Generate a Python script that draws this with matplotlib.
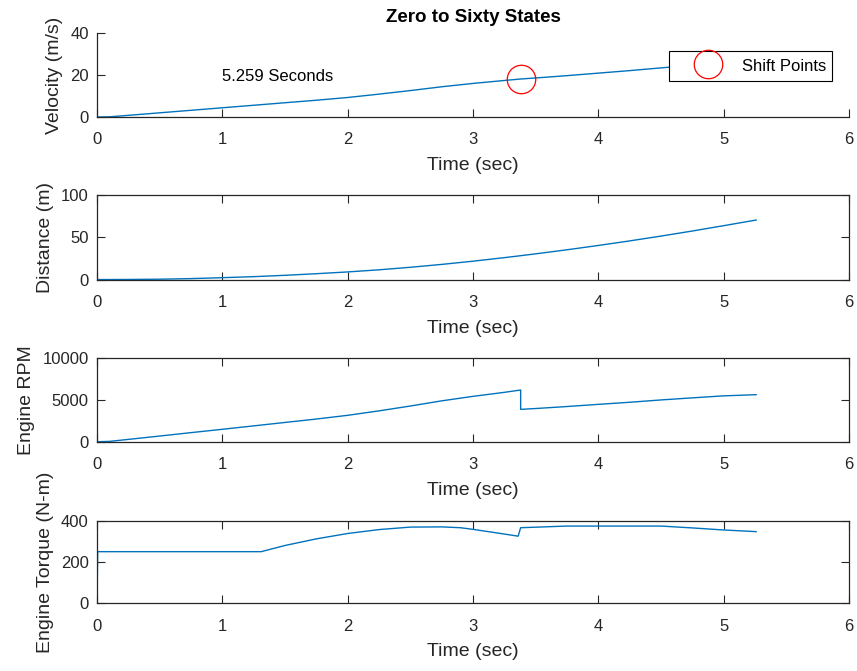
import matplotlib
matplotlib.use("Agg")
import matplotlib.pyplot as plt

# time base for the vehicle states (shift at 3.38 s listed twice)
time_s = [0, 0.1, 0.25, 0.5, 0.75, 1.0, 1.25, 1.5, 1.75, 2.0, 2.25, 2.5, 2.75,
          3.0, 3.25, 3.38, 3.38, 3.5, 3.75, 4.0, 4.25, 4.5, 4.75, 5.0, 5.259]
velocity = [0, 0.1, 0.8, 2.0, 3.2, 4.4, 5.6, 6.8, 8.0, 9.3, 10.9, 12.6, 14.4,
            16.0, 17.4, 18.1, 18.1, 18.6, 19.7, 20.9, 22.1, 23.4, 24.6, 25.7, 26.8]
distance = [0, 0, 0.1, 0.4, 1.1, 2.2, 3.4, 5.0, 6.9, 9.0, 11.5, 14.5, 17.9,
            21.7, 25.9, 28.2, 28.2, 30.4, 35.2, 40.3, 45.7, 51.4, 57.4, 63.7, 70.4]
engine_rpm = [0, 40, 280, 680, 1090, 1490, 1900, 2310, 2720, 3165, 3700, 4280, 4900,
              5440, 5920, 6200, 3880, 3980, 4220, 4480, 4730, 5010, 5260, 5500, 5640]

# torque has its own breakpoints
torque_time = [0, 0.005, 1.31, 1.5, 1.75, 2.0, 2.25, 2.5, 2.75, 2.9, 3.0, 3.2, 3.36,
               3.38, 3.75, 4.5, 4.75, 5.0, 5.259]
engine_torque = [0, 250, 250, 280, 312, 338, 357, 369, 370, 366, 358, 340, 325,
                 366, 374, 374, 365, 355, 347]

shift_time = [3.38]
shift_velocity = [18.1]
final_time = 5.259

xticks = [0, 1, 2, 3, 4, 5, 6]

plt.rcParams['font.family'] = ['Liberation Sans', 'DejaVu Sans']
dark = '#262626'
blue = '#0072BD'

fig = plt.figure(figsize=(8.57, 6.71), dpi=100)

left, width = 0.1132, 0.8775
panels = [
    (0.8256, 0.1252, velocity, time_s, 'Velocity (m/s)', [0, 20, 40], (0, 40)),
    (0.5834, 0.1260, distance, time_s, 'Distance (m)', [0, 50, 100], (0, 100)),
    (0.3417, 0.1243, engine_rpm, time_s, 'Engine RPM', [0, 5000, 10000], (0, 10000)),
    (0.1009, 0.1231, engine_torque, torque_time, 'Engine Torque (N-m)', [0, 200, 400], (0, 400)),
]

axes = []
for i, (bottom, height, yvals, tvals, ylab, yticks, ylim) in enumerate(panels):
    ax = fig.add_axes([left, bottom, width, height])
    ax.plot(tvals, yvals, color=blue, lw=1.0)
    ax.set_xlim(0, 6)
    ax.set_ylim(*ylim)
    ax.set_xticks(xticks)
    ax.set_yticks(yticks)
    ax.set_xlabel('Time (sec)', fontsize=14, color=dark, labelpad=7)
    ax.set_ylabel(ylab, fontsize=14, color=dark, labelpad=5)
    boxed = i > 0
    ax.tick_params(direction='in', length=5.5, width=0.8, colors=dark,
                   labelsize=12, top=boxed, right=boxed)
    ax.tick_params(axis='x', pad=11)
    ax.tick_params(axis='y', pad=6)
    for name, sp in ax.spines.items():
        sp.set_color(dark)
        sp.set_linewidth(0.9)
    if not boxed:
        ax.spines['top'].set_visible(False)
        ax.spines['right'].set_visible(False)
    axes.append(ax)

ax0 = axes[0]
ax0.set_title('Zero to Sixty States', fontsize=13.5, fontweight='bold', pad=8)
ax0.text(1.0, 19.5, f'{final_time} Seconds', fontsize=12, va='center', ha='left')
marks, = ax0.plot(shift_time, shift_velocity, 'o', ms=20.5, mfc='none', mec='red',
                  mew=0.9, label='Shift Points')
leg = ax0.legend(handles=[marks], loc='upper right', bbox_to_anchor=(0.977, 0.786),
                 borderaxespad=0, fontsize=12, fancybox=False, framealpha=1,
                 edgecolor='black', borderpad=0.35, handlelength=4.0,
                 handleheight=1.3, handletextpad=0.0)
leg.get_frame().set_linewidth(0.8)

fig.savefig('out.png', dpi=100)
